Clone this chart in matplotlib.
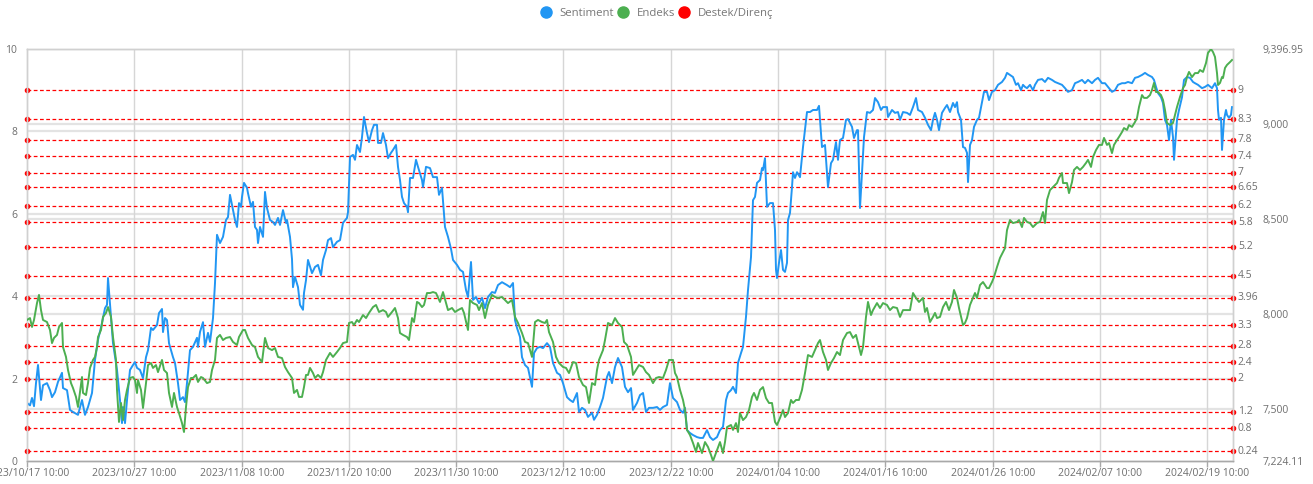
import matplotlib
matplotlib.use("Agg")
import matplotlib.pyplot as plt
from matplotlib.lines import Line2D
from matplotlib.ticker import FixedLocator

plt.rcParams['font.family'] = ['Open Sans', 'DejaVu Sans']

# x axis: sample index of the hourly series, labels shown every ~107 samples
tick_idx = [0, 107, 215, 322, 429, 536, 644, 751, 858, 966, 1073, 1180]
tick_labels = ['2023/10/17 10:00', '2023/10/27 10:00', '2023/11/08 10:00', '2023/11/20 10:00',
               '2023/11/30 10:00', '2023/12/12 10:00', '2023/12/22 10:00', '2024/01/04 10:00',
               '2024/01/16 10:00', '2024/01/26 10:00', '2024/02/07 10:00', '2024/02/19 10:00']
n_samples = 1206

# Sentiment (left axis, 0-10)
sent_x = [0, 3, 5, 7, 9, 11, 14, 16, 20, 23, 25, 28, 31, 35, 36, 40, 43, 46, 51, 55, 58, 61, 65, 68, 71,
          75, 78, 80, 81, 84, 86, 90, 93, 95, 96, 98, 100, 103, 106, 108, 110, 113, 116, 119, 121, 124,
          126, 130, 132, 135, 136, 138, 140, 142, 146, 148, 151, 153, 156, 158, 160, 163, 166, 170, 171,
          173, 176, 178, 181, 183, 186, 188, 190, 193, 196, 199, 201, 203, 206, 208, 210, 212, 214, 215,
          217, 220, 221, 224, 226, 228, 230, 231, 233, 236, 238, 240, 243, 246, 248, 251, 253, 256, 259,
          260, 263, 265, 266, 268, 271, 273, 276, 277, 279, 281, 285, 288, 291, 294, 296, 299, 301, 304,
          306, 310, 313, 316, 320, 321, 323, 326, 328, 330, 333, 335, 337, 340, 342, 345, 347, 350, 351,
          354, 356, 359, 361, 364, 366, 369, 371, 373, 375, 377, 380, 381, 383, 386, 389, 391, 395, 396,
          399, 403, 406, 410, 412, 415, 418, 421, 424, 426, 430, 433, 436, 439, 441, 444, 446, 449, 452,
          455, 458, 461, 465, 468, 471, 475, 480, 483, 486, 488, 490, 493, 495, 498, 501, 505, 507, 510,
          513, 516, 520, 523, 526, 530, 533, 536, 540, 543, 546, 550, 552, 555, 558, 561, 565, 567, 570,
          573, 576, 580, 582, 585, 588, 591, 595, 598, 601, 604, 606, 610, 613, 616, 619, 622, 626, 630,
          633, 636, 640, 643, 645, 646, 650, 653, 656, 658, 660, 663, 666, 670, 673, 676, 680, 683, 686,
          690, 693, 696, 699, 701, 704, 706, 709, 711, 714, 716, 719, 721, 724, 726, 728, 730, 733, 735,
          736, 738, 740, 743, 746, 748, 749, 750, 752, 754, 756, 758, 760, 761, 763, 765, 766, 768, 770,
          773, 776, 780, 783, 786, 790, 792, 795, 798, 801, 804, 806, 809, 811, 813, 816, 819, 821, 825,
          827, 830, 831, 833, 835, 837, 840, 843, 846, 848, 851, 854, 856, 860, 861, 865, 868, 871, 873,
          876, 880, 883, 886, 889, 891, 895, 898, 901, 904, 906, 908, 910, 912, 915, 918, 920, 923, 926,
          928, 930, 931, 934, 936, 938, 940, 941, 943, 945, 947, 950, 952, 955, 957, 960, 962, 965, 968,
          971, 975, 978, 980, 983, 986, 989, 991, 994, 996, 998, 1000, 1003, 1006, 1008, 1011, 1015,
          1018, 1021, 1025, 1028, 1031, 1035, 1038, 1041, 1045, 1048, 1051, 1055, 1058, 1061, 1065,
          1068, 1071, 1075, 1078, 1081, 1085, 1088, 1091, 1095, 1098, 1101, 1105, 1108, 1111, 1115,
          1118, 1121, 1125, 1127, 1129, 1131, 1134, 1136, 1138, 1140, 1142, 1144, 1146, 1147, 1149,
          1150, 1152, 1155, 1157, 1160, 1163, 1166, 1168, 1171, 1175, 1178, 1181, 1185, 1188, 1190,
          1191, 1192, 1194, 1195, 1197, 1199, 1200, 1202, 1204, 1205]
sentiment = [1.41, 1.35, 1.53, 1.33, 1.89, 2.33, 1.48, 1.84, 1.89, 1.72, 1.55, 1.67, 1.92, 2.14, 1.77,
             1.72, 1.24, 1.19, 1.12, 1.48, 1.12, 1.31, 1.65, 2.45, 2.94, 3.35, 3.71, 3.79, 4.44, 3.50,
             2.86, 2.21, 1.48, 0.92, 1.31, 0.92, 1.48, 2.21, 2.33, 2.40, 2.26, 2.21, 2.01, 2.52, 2.69,
             3.23, 3.18, 3.30, 3.59, 3.69, 3.13, 3.47, 3.42, 2.86, 2.52, 2.38, 1.89, 1.48, 1.55, 1.43,
             1.89, 2.69, 2.77, 2.99, 2.77, 3.13, 3.37, 2.77, 3.11, 2.89, 3.47, 4.32, 5.49, 5.29, 5.44,
             5.85, 5.92, 6.46, 6.09, 5.85, 5.68, 6.26, 6.17, 6.41, 6.75, 6.63, 6.50, 6.17, 6.29, 5.68,
             5.61, 5.29, 5.68, 5.44, 6.53, 6.14, 5.85, 5.80, 5.73, 5.90, 5.73, 6.09, 5.78, 5.85, 5.44,
             4.90, 4.22, 4.47, 4.22, 3.79, 3.67, 4.08, 4.39, 4.88, 4.56, 4.71, 4.76, 4.51, 4.88, 5.12,
             5.36, 5.41, 5.19, 5.32, 5.36, 5.78, 5.90, 6.04, 7.38, 7.43, 7.31, 7.67, 7.50, 7.86, 8.35,
             7.96, 7.74, 8.03, 8.16, 8.16, 7.72, 7.72, 7.96, 7.67, 7.35, 7.48, 7.55, 7.67, 7.14, 6.82,
             6.41, 6.26, 6.17, 6.04, 6.87, 6.87, 7.31, 7.14, 6.82, 6.65, 7.14, 7.11, 6.89, 6.89, 6.46,
             6.63, 5.68, 5.44, 5.15, 4.88, 4.76, 4.64, 4.59, 4.15, 3.98, 4.83, 3.91, 3.98, 3.83, 3.96,
             3.71, 3.98, 4.10, 4.08, 4.27, 4.34, 4.27, 4.22, 4.32, 3.42, 3.23, 3.01, 2.52, 2.33, 2.26,
             1.80, 2.62, 2.74, 2.77, 2.74, 2.86, 2.77, 2.38, 2.14, 2.09, 1.89, 1.55, 1.48, 1.43, 1.65,
             1.19, 1.29, 1.24, 1.07, 1.17, 1.00, 1.12, 1.31, 1.53, 2.04, 2.16, 1.89, 2.28, 2.50, 2.28,
             1.80, 1.67, 1.77, 1.24, 1.41, 1.60, 1.65, 1.19, 1.29, 1.29, 1.31, 1.24, 1.31, 1.36, 1.89,
             1.65, 1.53, 1.43, 1.24, 1.17, 1.29, 0.75, 0.68, 0.63, 0.58, 0.56, 0.56, 0.75, 0.58, 0.51,
             0.58, 0.75, 0.83, 1.48, 1.65, 1.72, 1.80, 1.65, 2.38, 2.62, 2.77, 3.50, 4.15, 4.95, 6.33,
             6.41, 6.75, 6.82, 7.11, 7.06, 7.35, 6.17, 6.26, 6.26, 5.61, 4.64, 4.44, 4.81, 5.12, 4.64,
             4.59, 4.81, 5.85, 6.02, 6.65, 7.01, 6.87, 7.01, 6.89, 7.62, 8.47, 8.47, 8.52, 8.52, 8.62,
             7.62, 7.67, 6.65, 7.23, 7.31, 7.74, 7.31, 7.79, 7.84, 8.28, 8.30, 8.11, 7.84, 8.03, 8.03,
             6.14, 6.99, 7.86, 8.47, 8.45, 8.52, 8.81, 8.71, 8.52, 8.59, 8.59, 8.35, 8.52, 8.45, 8.47,
             8.28, 8.47, 8.45, 8.40, 8.59, 8.81, 8.52, 8.47, 8.33, 8.16, 8.03, 8.28, 8.45, 8.28, 8.03,
             8.45, 8.57, 8.64, 8.47, 8.69, 8.59, 8.71, 8.47, 8.28, 7.62, 7.60, 7.48, 6.77, 7.67, 7.79,
             8.11, 8.28, 8.33, 8.71, 8.96, 8.96, 8.76, 8.96, 9.00, 9.13, 9.20, 9.30, 9.42, 9.37, 9.32,
             9.13, 9.17, 9.00, 9.13, 9.08, 9.05, 9.13, 9.00, 9.13, 9.25, 9.27, 9.20, 9.30, 9.25, 9.20,
             9.17, 9.13, 9.05, 8.96, 9.00, 9.17, 9.20, 9.25, 9.17, 9.25, 9.17, 9.25, 9.30, 9.17, 9.17,
             9.08, 8.96, 9.00, 9.13, 9.17, 9.17, 9.20, 9.17, 9.30, 9.32, 9.37, 9.42, 9.37, 9.32, 9.25,
             9.08, 8.93, 8.83, 8.69, 8.28, 8.16, 7.79, 8.28, 7.86, 7.31, 7.96, 8.28, 8.52, 8.83, 9.25,
             9.32, 9.30, 9.20, 9.17, 9.13, 9.05, 9.08, 9.13, 9.05, 9.17, 9.05, 8.52, 8.28, 8.33, 7.55,
             8.28, 8.52, 8.40, 8.33, 8.40, 8.59]

# Endeks (right axis)
end_x = [0, 3, 5, 7, 10, 12, 14, 16, 20, 23, 25, 27, 30, 32, 35, 36, 39, 41, 44, 46, 49, 51, 55, 56, 59,
         61, 63, 66, 68, 70, 71, 74, 76, 79, 81, 84, 86, 89, 90, 92, 94, 96, 98, 100, 103, 106, 108, 110,
         111, 114, 116, 119, 121, 124, 126, 129, 131, 135, 137, 140, 142, 145, 147, 150, 152, 155, 157,
         159, 161, 164, 166, 169, 171, 174, 176, 180, 183, 185, 188, 190, 193, 196, 199, 203, 206, 210,
         212, 216, 218, 221, 225, 228, 231, 235, 238, 241, 245, 248, 251, 255, 258, 261, 265, 267, 270,
         272, 275, 277, 279, 281, 283, 286, 288, 291, 294, 296, 299, 303, 306, 310, 313, 316, 320, 322,
         325, 327, 330, 332, 336, 339, 342, 346, 349, 352, 356, 359, 361, 365, 368, 371, 373, 376, 380,
         382, 385, 387, 390, 392, 395, 397, 400, 403, 406, 409, 413, 416, 419, 421, 425, 428, 431, 435,
         437, 441, 443, 446, 450, 452, 455, 458, 461, 465, 468, 471, 475, 478, 481, 485, 488, 491, 495,
         498, 501, 505, 508, 511, 515, 518, 520, 522, 526, 529, 532, 536, 539, 542, 546, 549, 552, 556,
         559, 562, 565, 568, 570, 572, 576, 578, 581, 585, 588, 591, 595, 597, 600, 604, 606, 609, 612,
         616, 619, 622, 626, 629, 632, 636, 639, 642, 646, 648, 650, 653, 656, 658, 660, 663, 666, 669,
         671, 675, 678, 681, 684, 686, 690, 693, 696, 698, 700, 704, 706, 709, 711, 713, 716, 719, 722,
         725, 727, 730, 733, 736, 739, 742, 745, 748, 750, 753, 756, 758, 761, 764, 766, 769, 772, 775,
         778, 781, 785, 788, 791, 793, 796, 799, 801, 804, 807, 810, 813, 816, 820, 823, 826, 829, 831,
         834, 836, 839, 841, 844, 846, 850, 853, 856, 860, 863, 866, 870, 873, 876, 880, 883, 886, 889,
         892, 896, 898, 900, 903, 906, 908, 910, 913, 916, 919, 922, 925, 927, 930, 932, 936, 938, 940,
         943, 946, 948, 950, 953, 956, 960, 962, 965, 967, 970, 973, 978, 980, 983, 986, 990, 992, 995,
         997, 1000, 1003, 1006, 1010, 1013, 1016, 1018, 1020, 1023, 1026, 1030, 1032, 1035, 1036, 1040,
         1042, 1045, 1047, 1050, 1053, 1056, 1059, 1061, 1064, 1066, 1069, 1072, 1075, 1077, 1080, 1082,
         1085, 1087, 1090, 1092, 1095, 1097, 1100, 1102, 1105, 1108, 1110, 1112, 1115, 1117, 1120, 1123,
         1125, 1127, 1129, 1131, 1134, 1136, 1138, 1140, 1143, 1146, 1148, 1150, 1153, 1156, 1158, 1160,
         1162, 1165, 1168, 1171, 1173, 1176, 1179, 1181, 1184, 1186, 1188, 1190, 1191, 1193, 1195, 1196,
         1198, 1200, 1203, 1205]
endeks = [7968, 7978, 7931, 7968, 8057, 8100, 8020, 7968, 7957, 7915, 7846, 7873, 7889, 7931, 7952, 7825,
          7773, 7704, 7635, 7609, 7562, 7509, 7667, 7583, 7572, 7635, 7715, 7757, 7773, 7825, 7878, 7915,
          7984, 8005, 8036, 7984, 7878, 7757, 7599, 7430, 7530, 7440, 7546, 7599, 7662, 7667, 7651, 7583,
          7651, 7599, 7504, 7635, 7730, 7741, 7715, 7730, 7693, 7757, 7704, 7688, 7583, 7509, 7583, 7509,
          7477, 7424, 7377, 7509, 7614, 7662, 7662, 7678, 7641, 7667, 7662, 7635, 7641, 7704, 7757, 7873,
          7889, 7862, 7873, 7878, 7852, 7836, 7878, 7915, 7915, 7873, 7836, 7825, 7773, 7746, 7873, 7820,
          7809, 7820, 7773, 7767, 7720, 7693, 7662, 7583, 7599, 7562, 7562, 7614, 7678, 7678, 7715, 7688,
          7662, 7678, 7662, 7693, 7757, 7794, 7773, 7799, 7820, 7846, 7852, 7952, 7957, 7941, 7968, 7957,
          7994, 7978, 8005, 8036, 8047, 8010, 8020, 8010, 7984, 8010, 8031, 7978, 7899, 7889, 7878, 7862,
          7978, 7957, 8063, 8057, 8036, 8047, 8110, 8110, 8115, 8110, 8063, 8115, 8057, 8020, 8031, 8010,
          8020, 8031, 8005, 7915, 8073, 8057, 8047, 8020, 8057, 7978, 8047, 8100, 8089, 8084, 8089, 8073,
          8057, 8073, 7984, 7952, 7899, 7852, 7846, 7773, 7957, 7968, 7957, 7952, 7968, 7904, 7852, 7773,
          7741, 7720, 7715, 7688, 7746, 7741, 7667, 7625, 7614, 7530, 7635, 7625, 7704, 7757, 7809, 7862,
          7952, 7941, 7978, 7952, 7931, 7852, 7836, 7773, 7678, 7704, 7730, 7720, 7693, 7678, 7635, 7662,
          7667, 7662, 7704, 7757, 7757, 7688, 7667, 7599, 7546, 7493, 7388, 7361, 7319, 7272, 7319, 7266,
          7324, 7298, 7256, 7224.11, 7282, 7324, 7266, 7324, 7403, 7414, 7388, 7424, 7377, 7477, 7440,
          7456, 7493, 7562, 7583, 7546, 7599, 7614, 7556, 7530, 7530, 7430, 7414, 7451, 7493, 7456, 7477,
          7546, 7530, 7546, 7546, 7599, 7688, 7783, 7773, 7809, 7846, 7862, 7799, 7757, 7704, 7741, 7767,
          7799, 7783, 7862, 7899, 7904, 7873, 7889, 7846, 7783, 7825, 7984, 8063, 7994, 8020, 8057, 8031,
          8057, 8047, 8020, 8036, 8031, 7984, 8020, 8020, 8020, 8110, 8084, 8063, 8084, 8010, 8031, 7957,
          7984, 8005, 7978, 7984, 8036, 8063, 8020, 8063, 8126, 8084, 8031, 7941, 7952, 7978, 8047, 8084,
          8110, 8084, 8152, 8168, 8136, 8136, 8168, 8194, 8247, 8295, 8347, 8442, 8495, 8479, 8485, 8495,
          8458, 8506, 8485, 8479, 8458, 8479, 8485, 8537, 8479, 8601, 8653, 8669, 8690, 8717, 8743, 8690,
          8690, 8637, 8695, 8759, 8775, 8759, 8775, 8796, 8812, 8775, 8827, 8864, 8891, 8891, 8928, 8891,
          8901, 8848, 8891, 8917, 8933, 8959, 8980, 8970, 8996, 8986, 9012, 9033, 9091, 9154, 9139, 9139,
          9154, 9181, 9218, 9170, 9170, 9154, 9128, 9075, 9007, 8996, 9007, 9049, 9091, 9144, 9191, 9207,
          9249, 9276, 9249, 9270, 9270, 9286, 9276, 9323, 9376, 9396.95, 9381, 9355, 9270, 9207, 9218,
          9249, 9244, 9297, 9313, 9328, 9339]

# support / resistance levels (left axis scale)
levels = [9, 8.3, 7.8, 7.4, 7, 6.65, 6.2, 5.8, 5.2, 4.5, 3.96, 3.3, 2.8, 2.4, 2, 1.2, 0.8, 0.24]
level_labels = ['9', '8.3', '7.8', '7.4', '7', '6.65', '6.2', '5.8', '5.2', '4.5', '3.96', '3.3',
                '2.8', '2.4', '2', '1.2', '0.8', '0.24']

right_ticks = [7224.11, 7500, 8000, 8500, 9000, 9396.95]
right_labels = ['7,224.11', '7,500', '8,000', '8,500', '9,000', '9,396.95']

blue = '#2196F3'
green = '#4CAF50'
text_c = '#6e6e6e'
grid_c = '#e3e3e3'

fig = plt.figure(figsize=(13.13, 4.84), dpi=100)
ax = fig.add_axes([27 / 1313, 23 / 484, 1206 / 1313, 412 / 484])
ax2 = ax.twinx()

ax.set_xlim(0, n_samples)
ax.set_ylim(0, 10)
ax2.set_ylim(right_ticks[0], right_ticks[-1])

# grids
ax.set_yticks([0, 2, 4, 6, 8, 10])
ax.set_yticklabels(['0', '2', '4', '6', '8', '10'])
for v in [2, 4, 6, 8, 10]:
    ax.axhline(v, color=grid_c, lw=1.6, zorder=0)
for v in right_ticks[1:-1]:
    ax.axhline((v - right_ticks[0]) / (right_ticks[-1] - right_ticks[0]) * 10, color=grid_c, lw=1.6, zorder=0)
ax.set_xticks(tick_idx)
ax.set_xticklabels(tick_labels)
for t in tick_idx[1:]:
    ax.axvline(t, color='#d6d6d6', lw=1.0, zorder=0)

# support / resistance lines
for lvl, lab in zip(levels, level_labels):
    ax.plot([0, 1], [lvl, lvl], transform=ax.get_yaxis_transform(), color='red', lw=0.9,
            ls=(0, (3, 2)), marker='o', ms=3, clip_on=False, zorder=1)
    ax.text(1.004, lvl, lab, transform=ax.get_yaxis_transform(), ha='left', va='center',
            fontsize=7.5, color=text_c)

ax.plot(sent_x, sentiment, color=blue, lw=1.4, zorder=3)
ax2.plot(end_x, endeks, color=green, lw=1.4, zorder=3)

# axes styling
for a in (ax, ax2):
    for s in a.spines.values():
        s.set_color('#d0d0d0')
        s.set_linewidth(1.0)
    a.spines['bottom'].set_color('#a8a8a8')
ax.tick_params(axis='y', length=0, pad=7, labelsize=7.5, labelcolor=text_c)
ax.tick_params(axis='x', length=4, width=1, color='#a8a8a8', pad=1, labelsize=7.5, labelcolor=text_c)
ax2.yaxis.set_major_locator(FixedLocator(right_ticks))
ax2.set_yticklabels(right_labels)
ax2.tick_params(axis='y', length=0, pad=21, labelsize=7.5, labelcolor=text_c)

handles = [Line2D([], [], ls='none', marker='o', ms=8, color=blue),
           Line2D([], [], ls='none', marker='o', ms=8, color=green),
           Line2D([], [], ls='none', marker='o', ms=8, color='red')]
fig.legend(handles, ['Sentiment', 'Endeks', 'Destek/Direnç'], loc='center', bbox_to_anchor=(0.5, 0.973),
           ncol=3, frameon=False, fontsize=8.2, labelcolor='#777777', handletextpad=0.7,
           columnspacing=0.3, handlelength=1.0)

fig.savefig('out.png', dpi=100)
